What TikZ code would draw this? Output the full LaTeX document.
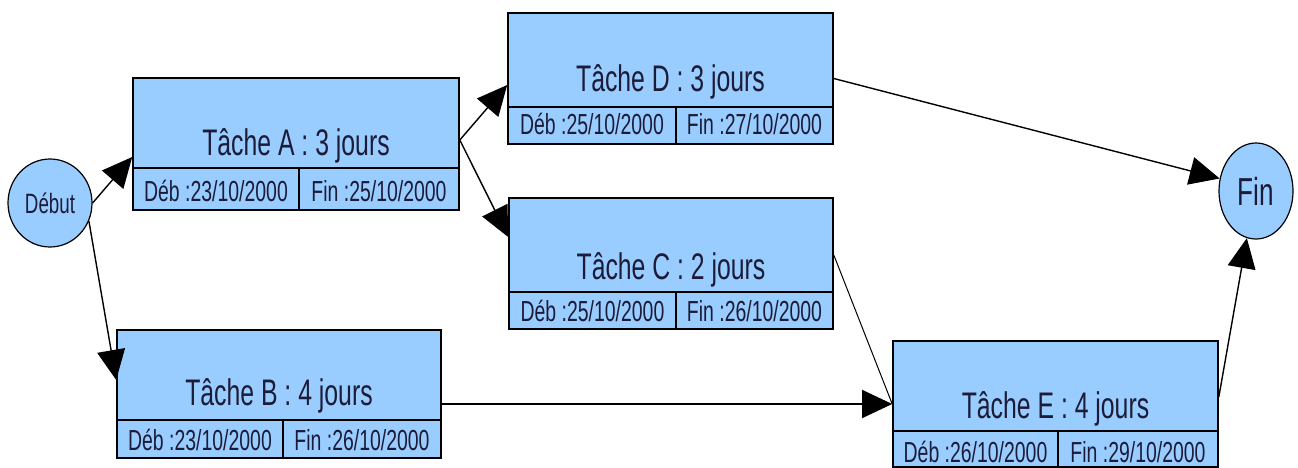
\documentclass[tikz,border=0pt]{standalone}
\usepackage{fontspec}
\newfontfamily\nar[FakeStretch=0.67]{Liberation Sans}
\usetikzlibrary{shapes.geometric,arrows.meta,calc}
\definecolor{boxfill}{HTML}{99CCFF}
\definecolor{txt}{HTML}{1C1C38}
\begin{document}
\begin{tikzpicture}[x=1pt,y=-1pt,
  taskbox/.style={rectangle, draw=black, line width=1.6pt, fill=boxfill, inner sep=0pt},
  boxline/.style={draw=black, line width=1.6pt},
  tasktitle/.style={font=\nar\fontsize{37}{42}\selectfont, text=txt, anchor=base, inner sep=0pt},
  cell/.style={font=\nar\fontsize{29}{32}\selectfont, text=txt, inner sep=0pt},
  event/.style={ellipse, draw=black, line width=1.2pt, fill=boxfill, inner sep=0pt, text=txt},
  arr/.style={draw=black, line width=1.4pt, -{Triangle[length=30pt,width=28pt]}},
  thin/.style={draw=black, line width=1pt}]
\useasboundingbox (0,0) rectangle (1298,468);

% events
\node[event, minimum width=84pt, minimum height=88pt, font=\nar\fontsize{28}{30}\selectfont] (Debut) at (50,203) {Début};
\node[event, minimum width=74pt, minimum height=96pt, font=\nar\fontsize{39}{42}\selectfont] (Fin) at (1256,191) {Fin};

% Task A
\node[taskbox, minimum width=326pt, minimum height=132pt] (A) at (296,144) {};
\draw[boxline] (133,168) -- (459,168) (299,168) -- (299,210);
\node[tasktitle] (At) at (296,156) {Tâche A : 3 jours};
\node[cell] (Ad) at (216,191) {Déb :23/10/2000};
\node[cell] (Af) at (379,191) {Fin :25/10/2000};

% Task D
\node[taskbox, minimum width=325pt, minimum height=131pt] (D) at (670.5,78.5) {};
\draw[boxline] (508,107) -- (833,107) (676,107) -- (676,144);
\node[tasktitle] (Dt) at (670.5,92) {Tâche D : 3 jours};
\node[cell] (Dd) at (592,124) {Déb :25/10/2000};
\node[cell] (Df) at (754.5,124) {Fin :27/10/2000};

% Task C
\node[taskbox, minimum width=324pt, minimum height=131pt] (C) at (671,263.5) {};
\draw[boxline] (509,292) -- (833,292) (676,292) -- (676,329);
\node[tasktitle] (Ct) at (671,279) {Tâche C : 2 jours};
\node[cell] (Cd) at (592.5,311) {Déb :25/10/2000};
\node[cell] (Cf) at (754.5,311) {Fin :26/10/2000};

% Task B
\node[taskbox, minimum width=324pt, minimum height=128pt] (B) at (279,394) {};
\draw[boxline] (117,420) -- (441,420) (283,420) -- (283,458);
\node[tasktitle] (Bt) at (279,405) {Tâche B : 4 jours};
\node[cell] (Bd) at (200,440) {Déb :23/10/2000};
\node[cell] (Bf) at (362,440) {Fin :26/10/2000};

% Task E
\node[taskbox, minimum width=325pt, minimum height=126pt] (E) at (1055.5,404) {};
\draw[boxline] (893,431) -- (1218,431) (1058,431) -- (1058,467);
\node[tasktitle] (Et) at (1055.5,418) {Tâche E : 4 jours};
\node[cell] (Ed) at (975.5,452) {Déb :26/10/2000};
\node[cell] (Ef) at (1138,452) {Fin :29/10/2000};

% connectors
\draw[arr] (Debut.east) -- ([yshift=-13pt]A.west);
\draw[arr] (Debut.-25) -- ([yshift=14pt]B.west);
\draw[arr] ([yshift=4pt]A.east) -- ([yshift=-6.5pt]D.west);
\draw[arr] ([yshift=4pt]A.east) -- ([yshift=26.5pt]C.west);
\draw[arr] (D.east) -- (Fin.161);
\draw[thin] ([yshift=8.5pt]C.east) -- (E.west);
\draw[arr] (B.east |- E.west) -- (E.west);
\draw[arr] ([yshift=7pt]E.east) -- (Fin.259);
\end{tikzpicture}
\end{document}
